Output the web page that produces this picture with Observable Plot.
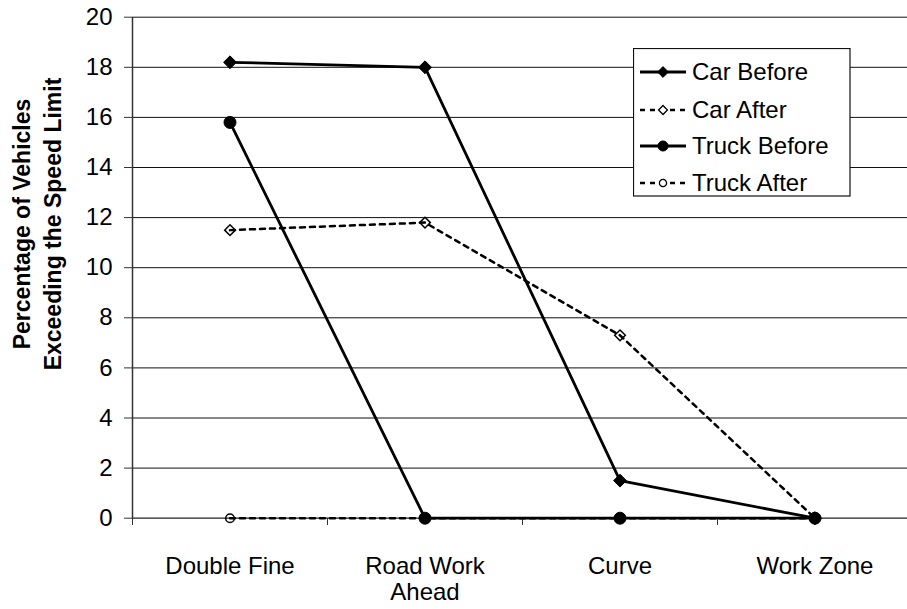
<!DOCTYPE html>
<html>
<head>
<meta charset="utf-8">
<script src="https://cdn.jsdelivr.net/npm/d3@7"></script>
<script src="https://cdn.jsdelivr.net/npm/@observablehq/plot@0.6"></script>
<style>
  html, body { margin: 0; padding: 0; background: #fff; }
  #wrap { position: relative; width: 907px; height: 609px; overflow: hidden; font-family: Arial, "Liberation Sans", sans-serif; }
  #legend { position: absolute; left: 633px; top: 48px; }
</style>
</head>
<body>
<div id="wrap"></div>
<script>
// ---- data ----
const categories = ["Double Fine", "Road Work\nAhead", "Curve", "Work Zone"];
const seriesNames = ["Car Before", "Car After", "Truck Before", "Truck After"];
const carBefore = [18.2, 18.0, 1.5, 0];
const carAfter = [11.5, 11.8, 7.3, 0];
const truckBefore = [15.8, 0, 0, 0];
const truckAfter = [0, 0, 0, 0];
const yTicks = [0, 2, 4, 6, 8, 10, 12, 14, 16, 18, 20];
const yTitle = ["Percentage of Vehicles", "Exceeding the Speed Limit"];

const seriesValues = [carBefore, carAfter, truckBefore, truckAfter];
const styles = [
  {dash: null, symbol: "diamond2", filled: true, r: 5.8},
  {dash: "5,5", symbol: "diamond2", filled: false, r: 4.8},
  {dash: null, symbol: "circle", filled: true, r: 6},
  {dash: "5,5", symbol: "circle", filled: false, r: 4.3}
];
const table = seriesNames.map((s, k) =>
  categories.map((c, i) => ({series: s, pos: i + 0.5, value: seriesValues[k][i]}))
);

const font = 'Arial, "Liberation Sans", sans-serif';

const lineMarks = table.map((rows, k) => Plot.line(rows, {
  x: "pos", y: "value", stroke: "#000", strokeWidth: styles[k].dash ? 2.5 : 2.8,
  strokeDasharray: styles[k].dash || undefined, strokeLinejoin: "miter"
}));
const dotMarks = table.map((rows, k) => Plot.dot(rows, {
  x: "pos", y: "value", symbol: () => styles[k].symbol, r: styles[k].r,
  fill: styles[k].filled ? "#000" : "none", stroke: "#000", strokeWidth: styles[k].filled ? 1 : 1.5
}));

const chart = Plot.plot({
  width: 907,
  height: 609,
  marginLeft: 132,
  marginRight: 0,
  marginTop: 17,
  marginBottom: 91,
  style: {fontFamily: font, fontSize: "24px", color: "#000", background: "#fff"},
  x: {type: "linear", domain: [0, 4], range: [132, 912]},
  y: {domain: [0, 20], range: [517.7, 16.7]},
  symbol: {type: "identity"},
  marks: [
    Plot.gridY(yTicks.filter(d => d > 0), {stroke: "#111", strokeOpacity: 1, strokeWidth: 1}),
    Plot.axisY({ticks: yTicks, tickSize: 8, tickPadding: 12, label: null, fontSize: 24, stroke: "#333"}),
    Plot.axisX({ticks: [0, 1, 2, 3], tickSize: 7, tickFormat: () => "", label: null, stroke: "#333"}),
    Plot.ruleY([0], {stroke: "#222", strokeWidth: 1.2}),
    Plot.ruleX([0], {stroke: "#333", strokeWidth: 1.5}),
    Plot.text(categories, {x: (d, i) => i + 0.5, y: () => 0, text: d => d, dy: 37, lineAnchor: "top", lineHeight: 1.08, fontSize: 24, fill: "#000"}),
    Plot.text([yTitle[0]], {frameAnchor: "left", textAnchor: "middle", dx: -110, dy: -44, rotate: -90, fontWeight: "bold", fontSize: 23, fill: "#000"}),
    Plot.text([yTitle[1]], {frameAnchor: "left", textAnchor: "middle", dx: -79, dy: -44, rotate: -90, fontWeight: "bold", fontSize: 23, fill: "#000"}),
    ...lineMarks,
    ...dotMarks
  ]
});
document.getElementById("wrap").appendChild(chart);

// ---- legend ----
const lg = d3.select("#wrap").append("svg").attr("id", "legend")
  .attr("width", 218).attr("height", 149);
lg.append("rect").attr("x", 0.5).attr("y", 0.5).attr("width", 216.5).attr("height", 147.5)
  .attr("fill", "#fff").attr("stroke", "#111").attr("stroke-width", 1.2);
const rowY = [24, 62, 98, 135];
seriesNames.forEach((s, k) => {
  const y = rowY[k];
  const st = styles[k];
  lg.append("line").attr("x1", 7).attr("x2", 53).attr("y1", y).attr("y2", y)
    .attr("stroke", "#000").attr("stroke-width", st.dash ? 2.5 : 2.8)
    .attr("stroke-dasharray", st.dash || null);
  const sym = st.symbol === "circle" ? d3.symbolCircle : d3.symbolDiamond2;
  const size = Math.PI * st.r * st.r * 0.7;
  lg.append("path").attr("d", d3.symbol(sym, size)()).attr("transform", `translate(30,${y})`)
    .attr("fill", st.filled ? "#000" : "#fff").attr("stroke", "#000").attr("stroke-width", st.filled ? 1 : 1.3);
  lg.append("text").attr("x", 59).attr("y", y).attr("dy", "0.35em")
    .attr("font-family", font).attr("font-size", 24).attr("fill", "#000").text(s);
});
</script>
</body>
</html>
